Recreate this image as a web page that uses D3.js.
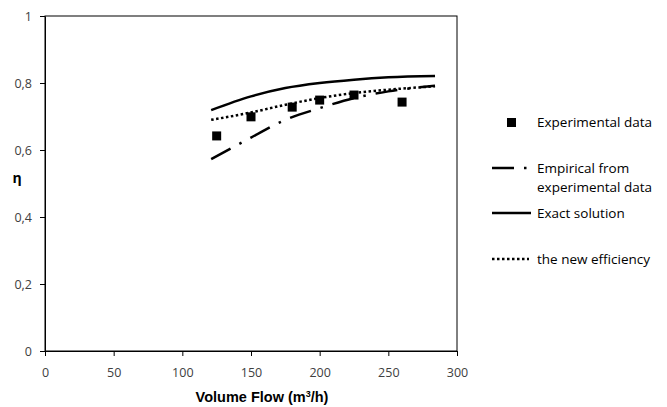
<!DOCTYPE html>
<html>
<head>
<meta charset="utf-8">
<script src="https://cdn.jsdelivr.net/npm/d3@7"></script>
<style>
  body { margin: 0; background: #fff; }
  text { font-family: "Open Sans", sans-serif; fill: #000; }
</style>
</head>
<body>
<svg id="chart"></svg>
<script>
const expFlow = [125, 150, 180, 200, 225, 260];
const expEta = [0.642, 0.699, 0.728, 0.749, 0.764, 0.743];

// curves
const curveFlow = [121, 150, 175, 200, 225, 250, 284];
const empiricalEta = [0.573, 0.637, 0.69, 0.725, 0.755, 0.775, 0.792];
const exactEta = [0.719, 0.76, 0.785, 0.80, 0.81, 0.817, 0.821];
const newEta = [0.69, 0.712, 0.735, 0.755, 0.77, 0.78, 0.79];

const xTicks = [0, 50, 100, 150, 200, 250, 300];
const yTicks = [0, 0.2, 0.4, 0.6, 0.8, 1];

let width = 667
let height = 407
let marginLeft = 45
let marginRight = 210 // plot ends at x=457
let marginTop = 16
let marginBottom = 56 // plot ends at y=351

const svg = d3.select("#chart")
    .attr("width", width)
    .attr("height", height)
    .attr("viewBox", [0, 0, width, height]);

const x = d3.scaleLinear([0, 300], [marginLeft, width - marginRight]);
const y = d3.scaleLinear([0, 1], [height - marginBottom, marginTop]);

const fmt = d => d === 0 || d === 1 ? String(d) : d3.format(".1f")(d).replace(".", ",");

// plot frame
svg.append("rect")
    .attr("x", x(0)).attr("y", y(1))
    .attr("width", x(300) - x(0)).attr("height", y(0) - y(1))
    .attr("fill", "none").attr("stroke", "#000").attr("stroke-width", 1);

svg.append("g")
    .attr("transform", `translate(0,${y(0)})`)
    .call(d3.axisBottom(x).tickValues(xTicks).tickSize(5).tickSizeOuter(0))
    .call(g => g.select(".domain").attr("stroke", "#000"))
    .call(g => g.selectAll(".tick text").attr("font-size", 12.5)
        .attr("y", 26).attr("dy", 0).style("fill", "#404040"));

svg.append("g")
    .attr("transform", `translate(${x(0)},0)`)
    .call(d3.axisLeft(y).tickValues(yTicks).tickFormat(fmt).tickSize(5).tickSizeOuter(0))
    .call(g => g.selectAll(".tick text").attr("font-size", 12.5)
        .attr("x", -13).style("fill", "#404040"));

// axis titles
svg.append("text")
    .attr("x", 262).attr("y", 402)
    .attr("text-anchor", "middle")
    .style("font-family", "'Liberation Sans', Arial, sans-serif")
    .attr("font-size", 14.5).attr("font-weight", "bold")
    .text("Volume Flow (m")
    .append("tspan").attr("font-size", 9).attr("dy", -5).text("3")
    .select(function () { return this.parentNode; })
    .append("tspan").attr("dy", 5).text("/h)");

svg.append("text")
    .attr("x", 17).attr("y", 183)
    .attr("text-anchor", "middle")
    .attr("font-size", 14).attr("font-weight", "bold")
    .text("η");

const line = d3.line().curve(d3.curveMonotoneX);

const series = [
    {vals: empiricalEta, dash: "22,10,2.5,10"},
    {vals: exactEta, dash: null},
    {vals: newEta, dash: "2.5,2.5"}
];

series.forEach(s => {
    svg.append("path")
        .attr("fill", "none")
        .attr("stroke", "#000")
        .attr("stroke-width", 2.5)
        .attr("stroke-dasharray", s.dash)
        .attr("d", line(curveFlow.map((f, i) => [x(f), y(s.vals[i])])));
});

svg.append("g")
    .selectAll("rect")
    .data(expFlow)
    .join("rect")
    .attr("x", (d) => x(d) - 4.5)
    .attr("y", (d, i) => y(expEta[i]) - 4.5)
    .attr("width", 9).attr("height", 9)
    .attr("fill", "#000");

// legend
const lg = svg.append("g").attr("font-size", 13.5);
lg.append("rect").attr("x", 507).attr("y", 118).attr("width", 9).attr("height", 9).attr("fill", "#000");
lg.append("text").attr("x", 537).attr("y", 127).text("Experimental data");

lg.append("line").attr("x1", 492).attr("x2", 531).attr("y1", 168).attr("y2", 168)
    .attr("stroke", "#000").attr("stroke-width", 2.5).attr("stroke-dasharray", "22,10,2.5,10");
lg.append("text").attr("x", 537).attr("y", 173).text("Empirical from");
lg.append("text").attr("x", 537).attr("y", 192).text("experimental data");

lg.append("line").attr("x1", 492).attr("x2", 531).attr("y1", 213).attr("y2", 213)
    .attr("stroke", "#000").attr("stroke-width", 2.5);
lg.append("text").attr("x", 537).attr("y", 218).text("Exact solution");

lg.append("line").attr("x1", 492).attr("x2", 529).attr("y1", 259).attr("y2", 259)
    .attr("stroke", "#000").attr("stroke-width", 2.5).attr("stroke-dasharray", "2.5,2.5");
lg.append("text").attr("x", 537).attr("y", 264).text("the new efficiency");
</script>
</body>
</html>
